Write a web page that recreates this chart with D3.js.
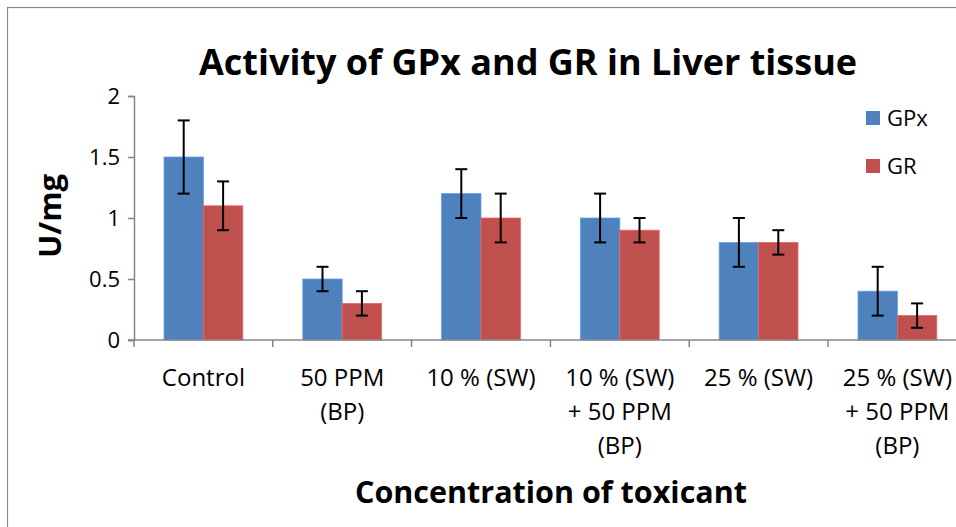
<!DOCTYPE html>
<html>
<head>
<meta charset="utf-8">
<script src="https://cdn.jsdelivr.net/npm/d3@7"></script>
<style>
  body { margin: 0; background: #fff; }
  svg { display: block; font-family: "Open Sans", "Noto Sans", sans-serif; }
</style>
</head>
<body>
<svg width="956" height="527"></svg>
<script>
const categories = [
  ["Control"],
  ["50 PPM", "(BP)"],
  ["10 % (SW)"],
  ["10 % (SW)", "+ 50 PPM", "(BP)"],
  ["25 % (SW)"],
  ["25 % (SW)", "+ 50 PPM", "(BP)"]
];
const seriesNames = ["GPx", "GR"];
const gpxValues = [1.5, 0.5, 1.2, 1.0, 0.8, 0.4];
const gpxErrors = [0.3, 0.1, 0.2, 0.2, 0.2, 0.2];
const grValues  = [1.1, 0.3, 1.0, 0.9, 0.8, 0.2];
const grErrors  = [0.2, 0.1, 0.2, 0.1, 0.1, 0.1];
const yTicks = [0, 0.5, 1, 1.5, 2];
const colors = ["#4F81BD", "#C0504D"];

const svg = d3.select("svg");
const margin = { left: 134, top: 96, bottom: 340 };
const bandW = 138.8;

// chart border (right side runs off the picture)
svg.append("rect")
  .attr("x", 7.5).attr("y", 7.5)
  .attr("width", 1000).attr("height", 600)
  .attr("fill", "none").attr("stroke", "#8c8c8c").attr("stroke-width", 1.2);

const keys = categories.map((c, i) => i);
const x0 = d3.scaleBand().domain(keys)
  .range([margin.left, margin.left + bandW * keys.length]);
const x1 = d3.scaleBand().domain(seriesNames)
  .range([30, bandW - 30]);
const y = d3.scaleLinear().domain([0, 2]).range([margin.bottom, margin.top]);

// y axis
const yAxis = svg.append("g")
  .attr("transform", `translate(${margin.left},0)`)
  .call(d3.axisLeft(y).tickValues(yTicks).tickSize(6).tickPadding(8)
    .tickFormat(d => d));
yAxis.select(".domain").attr("stroke", "#868686").attr("stroke-width", 1.5);
yAxis.selectAll(".tick line").attr("stroke", "#868686").attr("stroke-width", 1.5);
yAxis.selectAll("text").attr("font-size", 22).attr("fill", "#000")
  .attr("font-family", "Open Sans");

// bars
const data = [];
keys.forEach(i => {
  data.push({ k: i, s: "GPx", v: gpxValues[i], e: gpxErrors[i], c: colors[0] });
  data.push({ k: i, s: "GR", v: grValues[i], e: grErrors[i], c: colors[1] });
});

svg.append("g").selectAll("rect")
  .data(data).join("rect")
  .attr("x", d => x0(d.k) + x1(d.s))
  .attr("y", d => y(d.v))
  .attr("width", x1.bandwidth())
  .attr("height", d => y(0) - y(d.v))
  .attr("fill", d => d.c)
  .attr("stroke", d => d3.color(d.c).brighter(0.6))
  .attr("stroke-width", 0.8);

// x axis on top of bars
const xAxisG = svg.append("g").attr("transform", `translate(0,${margin.bottom})`);
xAxisG.append("line")
  .attr("x1", margin.left - 6).attr("x2", 970)
  .attr("stroke", "#868686").attr("stroke-width", 1.5);
xAxisG.selectAll(".xt")
  .data(keys.concat([keys.length])).join("line")
  .attr("x1", d => margin.left + d * bandW).attr("x2", d => margin.left + d * bandW)
  .attr("y1", 0).attr("y2", 7)
  .attr("stroke", "#868686").attr("stroke-width", 1.5);

// error bars
const eb = svg.append("g").attr("stroke", "#000").attr("stroke-width", 2);
data.forEach(d => {
  const cx = x0(d.k) + x1(d.s) + x1.bandwidth() / 2;
  eb.append("line").attr("x1", cx).attr("x2", cx)
    .attr("y1", y(d.v + d.e)).attr("y2", y(d.v - d.e));
  [d.v + d.e, d.v - d.e].forEach(v => {
    eb.append("line").attr("x1", cx - 6).attr("x2", cx + 6)
      .attr("y1", y(v)).attr("y2", y(v));
  });
});

// category labels
categories.forEach((lines, i) => {
  const t = svg.append("text")
    .attr("x", x0(i) + bandW / 2)
    .attr("y", 386)
    .attr("text-anchor", "middle")
    .attr("font-size", 24)
    .attr("fill", "#000");
  lines.forEach((ln, j) => {
    t.append("tspan").attr("x", x0(i) + bandW / 2)
      .attr("dy", j === 0 ? 0 : 34).text(ln);
  });
});

// title
svg.append("text")
  .attr("x", 528).attr("y", 75)
  .attr("text-anchor", "middle")
  .attr("font-size", 36).attr("font-weight", "bold")
  .text("Activity of GPx and GR in Liver tissue");

// axis titles
svg.append("text")
  .attr("transform", "translate(61,216) rotate(-90)")
  .attr("text-anchor", "middle")
  .attr("font-size", 31).attr("font-weight", "bold")
  .text("U/mg");

svg.append("text")
  .attr("x", 551).attr("y", 503)
  .attr("text-anchor", "middle")
  .attr("font-size", 30.5).attr("font-weight", "bold")
  .text("Concentration of toxicant");

// legend
const legend = svg.append("g");
seriesNames.forEach((s, i) => {
  legend.append("rect")
    .attr("x", 866).attr("y", 111 + i * 48)
    .attr("width", 14).attr("height", 14)
    .attr("fill", colors[i]);
  legend.append("text")
    .attr("x", 887).attr("y", 126 + i * 48)
    .attr("font-size", 22)
    .text(s);
});
</script>
</body>
</html>
